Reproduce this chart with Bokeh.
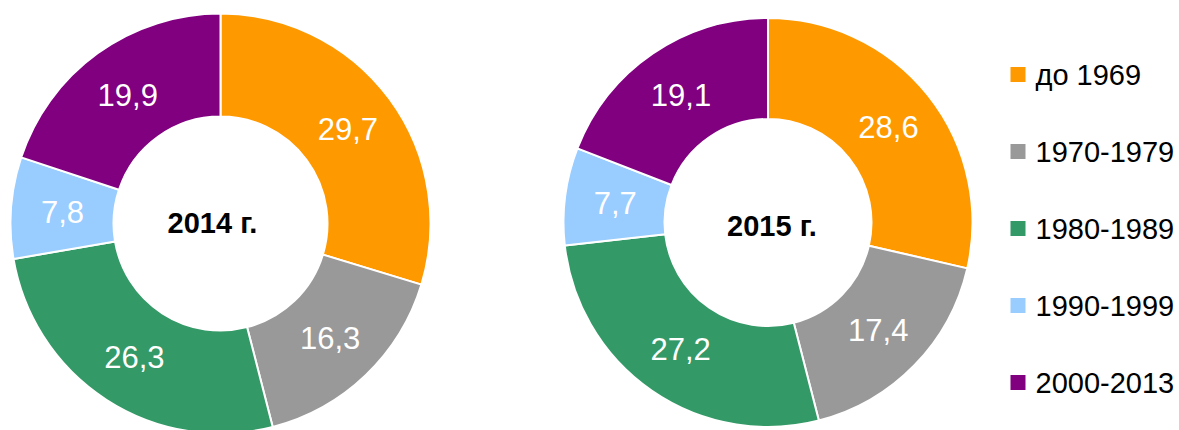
import math
from bokeh.plotting import figure
from bokeh.models import Range1d, ColumnDataSource
from bokeh.core.properties import value
from bokeh.embed import file_html
from bokeh.resources import INLINE

categories = ["до 1969", "1970-1979", "1980-1989", "1990-1999", "2000-2013"]
colors = ["#FF9900", "#999999", "#339966", "#99CCFF", "#800080"]
years = ["2014 г.", "2015 г."]
values_2014 = [29.7, 16.3, 26.3, 7.8, 19.9]
values_2015 = [28.6, 17.4, 27.2, 7.7, 19.1]

W, H = 1179, 430
p = figure(width=W, height=H, output_backend="svg", toolbar_location=None,
           x_range=Range1d(0, W), y_range=Range1d(-H, 0),
           min_border=0)
p.axis.visible = False
p.grid.visible = False
p.outline_line_color = None
p.background_fill_color = "white"
p.border_fill_color = "white"

FONT = value("Liberation Sans")

pies = [
    dict(vals=values_2014, title=years[0], cx=220, cy=-223, r_out=210, r_in=107, tdx=-8, tdy=0.5),
    dict(vals=values_2015, title=years[1], cx=767.5, cy=-222, r_out=204.5, r_in=103.5, tdx=4, tdy=-3.5),
]

for pie in pies:
    vals = pie["vals"]
    total = sum(vals)
    starts, ends, lx, ly, labels = [], [], [], [], []
    cum = 0.0
    r_mid = (pie["r_out"] + pie["r_in"]) / 2
    for v in vals:
        a0 = math.pi / 2 - 2 * math.pi * cum / total
        a1 = math.pi / 2 - 2 * math.pi * (cum + v) / total
        am = (a0 + a1) / 2
        starts.append(a0)
        ends.append(a1)
        lx.append(pie["cx"] + r_mid * math.cos(am))
        ly.append(pie["cy"] + r_mid * math.sin(am))
        labels.append(f"{v:.1f}".replace(".", ","))
        cum += v
    src = ColumnDataSource(dict(start=starts, end=ends, color=colors, lx=lx, ly=ly, label=labels))
    p.annular_wedge(x=pie["cx"], y=pie["cy"], inner_radius=pie["r_in"], outer_radius=pie["r_out"],
                    start_angle="start", end_angle="end", direction="clock",
                    fill_color="color", line_color="white", line_width=2, source=src)
    p.text(x="lx", y="ly", text="label", source=src, text_color="white",
           text_font=FONT, text_font_size="31px", text_align="center", text_baseline="middle")
    p.text(x=[pie["cx"] + pie["tdx"]], y=[pie["cy"] + pie["tdy"]], text=[pie["title"]],
           text_color="black", text_font=FONT, text_font_size="29px", text_font_style="bold",
           text_align="center", text_baseline="middle")

leg_y = [-74, -151, -228, -305, -382]
leg_src = ColumnDataSource(dict(y=leg_y, color=colors, label=categories))
p.rect(x=1017.5, y="y", width=15, height=15, fill_color="color", line_color=None, source=leg_src)
p.text(x=1035, y="y", text="label", source=leg_src, text_color="black", text_font=FONT,
       text_font_size="29px", text_align="left", text_baseline="middle")

open("out.html", "w").write(file_html(p, INLINE))
